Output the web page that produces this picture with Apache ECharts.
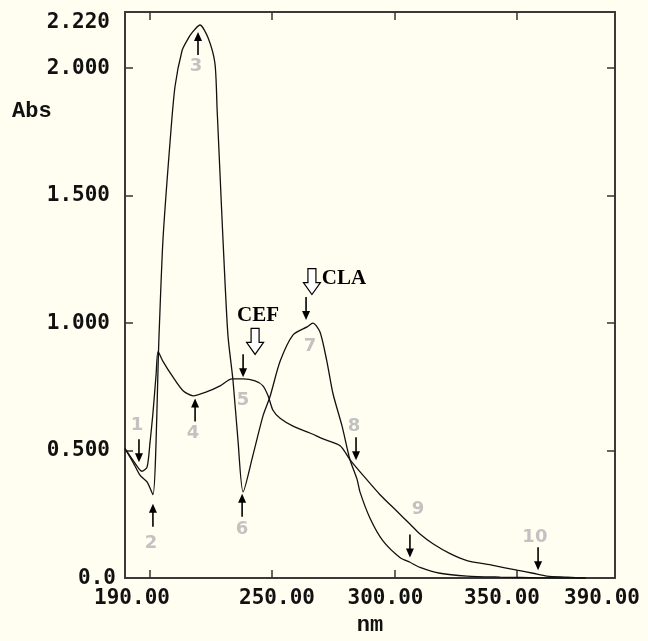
<!DOCTYPE html>
<html>
<head>
<meta charset="utf-8">
<title>CEF / CLA absorption spectra</title>
<script src="https://cdn.jsdelivr.net/npm/echarts@6/dist/echarts.min.js"></script>
<style>
  html, body { margin: 0; padding: 0; background: #fffef0; }
  #chart { width: 648px; height: 641px; }
</style>
</head>
<body>
<div id="chart"></div>
<script>
// CLA spectrum (big band near 220 nm, second band near 267 nm)
const claNm = [190, 193.3, 196.1, 199.0, 201.4, 203.9, 205.5, 208.4, 210.4, 213.3, 215.3, 217.3, 220.6, 223.9, 226.7, 227.6, 228.8, 230.0, 232.0, 234.1, 236.1, 238.2, 242.2, 246.3, 249.2, 253.3, 258.6, 264.3, 266.7, 269.6, 272.4, 274.9, 278.6, 281.8, 284.7, 285.9, 290.0, 295.3, 302.2, 306.3, 310.4, 318.6, 329.6, 343.1, 359.4, 378];
const claAbs = [0.508, 0.454, 0.404, 0.377, 0.327, 0.954, 1.327, 1.712, 1.927, 2.069, 2.108, 2.138, 2.169, 2.119, 2.019, 1.838, 1.581, 1.327, 0.954, 0.773, 0.542, 0.338, 0.481, 0.635, 0.712, 0.850, 0.954, 0.985, 1.000, 0.965, 0.850, 0.723, 0.596, 0.465, 0.388, 0.338, 0.235, 0.146, 0.081, 0.062, 0.042, 0.019, 0.008, 0.004, 0.001, 0];

// CEF spectrum (shoulder near 204 nm, plateau near 238 nm)
const cefNm = [190, 193.3, 196.9, 199.0, 200.2, 201.4, 202.7, 203.5, 205.5, 209.6, 213.7, 217.8, 223.5, 228.8, 233.7, 238.2, 243.1, 246.3, 248.4, 250.4, 253.3, 258.6, 265.5, 270.8, 277.8, 281.8, 287.1, 294.1, 301.0, 306.3, 310.4, 315.7, 322.7, 329.6, 340.2, 350.0, 356.5, 362.2, 370.4, 378];
const cefAbs = [0.508, 0.462, 0.419, 0.435, 0.531, 0.646, 0.800, 0.888, 0.850, 0.788, 0.735, 0.715, 0.731, 0.754, 0.781, 0.781, 0.773, 0.754, 0.715, 0.658, 0.627, 0.596, 0.569, 0.546, 0.519, 0.465, 0.404, 0.327, 0.262, 0.212, 0.173, 0.135, 0.096, 0.069, 0.050, 0.031, 0.019, 0.008, 0.004, 0];

// axis ticks / labels
const xTickValues = [200, 250, 300, 350];
const xLabelValues = [190, 250, 300, 350, 390];
const yTickValues = [0.5, 1.0, 1.5, 2.0];
const yLabelValues = [0, 0.5, 1.0, 1.5, 2.0, 2.22];

// numbered arrows: tip and number placed in [nm, abs]
const marks = [
  { n: '1', tip: [195.7, 0.454], num: [194.9, 0.600], dir: 'down' },
  { n: '2', tip: [201.4, 0.292], num: [200.6, 0.138], dir: 'up' },
  { n: '3', tip: [219.8, 2.142], num: [219.0, 2.008], dir: 'up' },
  { n: '4', tip: [218.6, 0.704], num: [217.8, 0.569], dir: 'up' },
  { n: '5', tip: [238.2, 0.788], num: [238.2, 0.696], dir: 'down' },
  { n: '6', tip: [237.8, 0.331], num: [237.8, 0.192], dir: 'up' },
  { n: '7', tip: [263.9, 1.012], num: [265.5, 0.908], dir: 'down' },
  { n: '8', tip: [284.3, 0.462], num: [283.5, 0.596], dir: 'down' },
  { n: '9', tip: [306.3, 0.081], num: [309.6, 0.269], dir: 'down' },
  { n: '10', tip: [358.6, 0.031], num: [357.3, 0.158], dir: 'down' }
];
const compounds = [
  { name: 'CEF', tip: [243.1, 0.877], text: [244.3, 1.031] },
  { name: 'CLA', tip: [266.3, 1.112], text: [279.4, 1.173] }
];

const toPairs = (xs, ys) => xs.map((x, i) => [x, ys[i]]);

const chart = echarts.init(document.getElementById('chart'));

const tickFont = { fontFamily: 'DejaVu Sans Mono', fontWeight: 'bold', fontSize: 21, color: '#111' };
const axisLine = { show: true, onZero: false, lineStyle: { color: '#3a3a3a', width: 2 } };
const tickStyle = { color: '#333', width: 1.5 };

// rich style keys per x label (nudges to where the instrument printed them)
const xLabelStyle = { 190: 'a', 250: 'b', 300: 'c', 350: 'd', 390: 'e' };

chart.setOption({
  backgroundColor: '#fffef0',
  animation: false,
  grid: { left: 125, right: 33, top: 12, bottom: 53 },
  xAxis: [
    {
      type: 'value', min: 190, max: 390, position: 'bottom',
      name: 'nm', nameLocation: 'middle', nameGap: 34,
      nameTextStyle: { fontFamily: 'Liberation Mono', fontWeight: 'bold', fontSize: 22, color: '#111' },
      axisLine: axisLine,
      axisTick: { show: true, inside: true, length: 8, customValues: xTickValues, lineStyle: tickStyle },
      axisLabel: {
        show: true, margin: 10, hideOverlap: false,
        customValues: xLabelValues,
        formatter: v => '{' + xLabelStyle[v] + '|' + v.toFixed(2) + '}',
        rich: {
          a: Object.assign({ padding: [0, 0, 0, 14] }, tickFont),
          b: Object.assign({ padding: [0, 0, 0, 10] }, tickFont),
          c: Object.assign({ padding: [0, 18, 0, 0] }, tickFont),
          d: Object.assign({ padding: [0, 30, 0, 0] }, tickFont),
          e: Object.assign({ padding: [0, 26, 0, 0] }, tickFont)
        }
      },
      splitLine: { show: false }
    },
    {
      type: 'value', min: 190, max: 390, position: 'top',
      axisLine: axisLine,
      axisTick: { show: true, inside: true, length: 8, customValues: xTickValues, lineStyle: tickStyle },
      axisLabel: { show: false },
      splitLine: { show: false }
    }
  ],
  yAxis: [
    {
      type: 'value', min: 0, max: 2.22, position: 'left',
      axisLine: axisLine,
      axisTick: { show: true, inside: true, length: 8, customValues: yTickValues, lineStyle: tickStyle },
      axisLabel: {
        show: true, margin: 15, hideOverlap: false,
        customValues: yLabelValues,
        formatter: v => (v === 0 ? '{z|0.0}' : v > 2.1 ? '{t|' + v.toFixed(3) + '}' : '{n|' + v.toFixed(3) + '}'),
        rich: {
          n: Object.assign({}, tickFont),
          t: Object.assign({ padding: [22, 0, 0, 0] }, tickFont),
          z: Object.assign({ padding: [0, -6, 0, 0] }, tickFont)
        }
      },
      splitLine: { show: false }
    },
    {
      type: 'value', min: 0, max: 2.22, position: 'right',
      axisLine: axisLine,
      axisTick: { show: true, inside: true, length: 8, customValues: yTickValues, lineStyle: tickStyle },
      axisLabel: { show: false },
      splitLine: { show: false }
    }
  ],
  series: [
    {
      name: 'CLA', type: 'line', data: toPairs(claNm, claAbs),
      showSymbol: false, smooth: 0.25,
      lineStyle: { color: '#111', width: 1.3 }
    },
    {
      name: 'CEF', type: 'line', data: toPairs(cefNm, cefAbs),
      showSymbol: false, smooth: 0.25,
      lineStyle: { color: '#111', width: 1.3 }
    }
  ]
});

// arrows, numbers and compound labels, placed through the axes
const px = p => chart.convertToPixel({ gridIndex: 0 }, p);
const g = [];
marks.forEach(m => {
  const [tx, ty] = px(m.tip);
  const s = m.dir === 'down' ? -1 : 1;
  g.push({ type: 'line', z: 10, shape: { x1: tx, y1: ty + s * 23, x2: tx, y2: ty + s * 6 }, style: { stroke: '#000', lineWidth: 1.6 } });
  g.push({ type: 'polygon', z: 10, shape: { points: [[tx - 4, ty + s * 9], [tx + 4, ty + s * 9], [tx, ty]] }, style: { fill: '#000' } });
  const [nx, ny] = px(m.num);
  g.push({ type: 'text', z: 10, x: nx, y: ny, style: { text: m.n, fill: '#c2c2c2', font: 'bold 18px "DejaVu Sans"', textAlign: 'center', textVerticalAlign: 'middle' } });
});
compounds.forEach(c => {
  const [tx, ty] = px(c.tip);
  g.push({
    type: 'polygon', z: 10,
    shape: { points: [[tx - 4, ty - 26], [tx + 4, ty - 26], [tx + 4, ty - 12], [tx + 8.5, ty - 12], [tx, ty], [tx - 8.5, ty - 12], [tx - 4, ty - 12]] },
    style: { fill: '#fff', stroke: '#000', lineWidth: 1.2 }
  });
  const [lx, ly] = px(c.text);
  g.push({ type: 'text', z: 10, x: lx, y: ly, style: { text: c.name, fill: '#000', font: 'bold 21px "Liberation Serif"', textAlign: 'center', textVerticalAlign: 'middle' } });
});
g.push({ type: 'text', z: 10, left: 12, top: 100, style: { text: 'Abs', fill: '#111', font: 'bold 22px "Liberation Mono"' } });
chart.setOption({ graphic: g });
</script>
</body>
</html>
